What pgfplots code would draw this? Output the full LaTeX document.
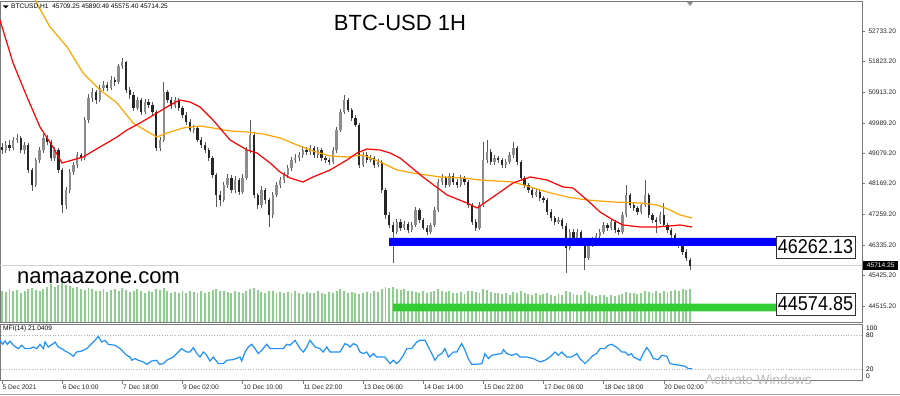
\documentclass[border=0pt]{standalone}
\usepackage{pgfplots}
\pgfplotsset{compat=1.18}
\usepackage{pgfplotstable}
\usepackage{fontspec}
\setmainfont{Liberation Sans}
\definecolor{maorange}{HTML}{FFA500}
\definecolor{mfiblue}{HTML}{1E90FF}
\definecolor{volgreen}{HTML}{8CCF8C}
\definecolor{bandgreen}{HTML}{32CD32}
\definecolor{frm}{HTML}{7A7A7A}
\def\sm{\fontsize{6.6}{7.5}\selectfont}

\pgfplotstableread{
x o h l c v
0 49250 49380 49060 49175 2400
2 49175 49430 49100 49325 2300
4 49325 49480 49150 49235 2500
6 49235 49560 49180 49474 2350
8 49474 49650 49390 49534 2450
10 49534 49600 49080 49175 2250
12 49175 49420 49050 49325 2400
14 49325 49380 48500 48577 2550
16 48577 48650 47950 48129 2600
18 48129 48950 48060 48876 2450
20 48876 49260 48800 49175 2350
22 49175 49640 49100 49534 2500
24 49534 49620 49330 49414 2700
26 49414 49480 48850 48936 2900
28 48936 49250 48860 49175 2650
30 49175 49230 48480 48577 2800
32 48577 48640 47290 47531 3000
34 47531 48080 47400 47979 2850
36 47979 48600 47900 48517 2750
38 48517 48820 48420 48727 2600
40 48727 49120 48650 49026 2700
42 49026 49100 48840 48936 2550
44 48936 50150 48880 50072 2450
46 50072 50850 49980 50730 2600
48 50730 51020 50600 50909 2500
50 50909 50980 50560 50670 2350
52 50670 51120 50600 51029 2400
54 51029 51240 50950 51119 2550
56 51119 51200 50930 51029 2300
58 51029 51380 50960 51268 2450
60 51268 51350 51100 51208 2500
62 51208 51760 51150 51687 2350
64 51687 51930 51600 51806 2600
66 51806 51850 50880 50969 2450
68 50969 51050 50700 50820 2300
70 50820 50900 50350 50431 2400
72 50431 50760 50360 50670 2500
74 50670 50720 50220 50311 2350
76 50311 50700 50250 50610 2250
78 50610 50700 50440 50521 2400
80 50521 50600 50200 50311 2300
82 50311 50380 49150 49235 2500
84 49235 49560 49130 49474 2450
86 49474 51200 49400 50909 2600
88 50909 50980 50580 50670 2350
90 50670 50760 50400 50491 2250
92 50491 50750 50420 50670 2300
94 50670 50720 50350 50431 2200
96 50431 50500 50130 50222 2350
98 50222 50300 49930 50012 2250
100 50012 50090 49700 49773 2400
102 49773 49920 49690 49833 2300
104 49833 49900 49400 49474 2200
106 49474 49560 49240 49325 2350
108 49325 49400 49090 49175 2250
110 49175 49240 48850 48936 2300
112 48936 49000 48330 48428 2450
114 48428 48500 47470 47830 2550
116 47830 47950 47500 47680 2400
118 47680 48220 47620 48129 2350
120 48129 48450 48050 48338 2300
122 48338 48420 47880 47979 2250
124 47979 48400 47900 48278 2400
126 48278 48350 47820 47919 2300
128 47919 48450 47850 48338 2200
130 48338 49260 48280 49175 2350
132 49175 50070 49100 49624 2500
134 49624 49700 47750 47830 2600
136 47830 47900 47400 47531 2450
138 47531 48100 47450 47979 2300
140 47979 48050 47560 47680 2250
142 47680 47750 46870 47232 2400
144 47232 47920 47150 47830 2350
146 47830 48230 47760 48129 2200
148 48129 48380 48050 48278 2300
150 48278 48520 48180 48428 2250
152 48428 48720 48350 48637 2300
154 48637 48960 48560 48876 2200
156 48876 49050 48790 48936 2350
158 48936 49120 48850 49026 2250
160 49026 49280 48950 49175 2150
162 49175 49260 49020 49115 2300
164 49115 49330 49030 49235 2200
166 49235 49300 48940 49026 2250
168 49026 49260 48950 49175 2350
170 49175 49230 48850 48936 2200
172 48936 49000 48780 48876 2150
174 48876 48950 48720 48816 2300
176 48816 49260 48760 49175 2250
178 49175 49860 49100 49773 2400
180 49773 50400 49700 50311 2500
182 50311 50820 50240 50670 2350
184 50670 50720 50300 50371 2250
186 50371 50430 50050 50132 2300
188 50132 50220 49850 49923 2200
190 49923 49980 48650 48727 2150
192 48727 49110 48660 49026 2250
194 49026 49120 48800 48876 2300
196 48876 49030 48820 48936 2200
198 48936 49000 48640 48727 2350
200 48727 48900 48660 48816 2300
202 48816 48880 47900 47979 2500
204 47979 48040 47100 47232 2650
206 47232 47320 46830 46933 2600
208 46933 47020 45800 46723 2700
210 46723 47120 46650 47022 2550
212 47022 47100 46760 46843 2450
214 46843 47050 46780 46963 2500
216 46963 47030 46700 46783 2350
218 46783 47020 46720 46933 2400
220 46933 47460 46880 47381 2300
222 47381 47440 47000 47082 2250
224 47082 47150 46770 46843 2350
226 46843 46920 46640 46723 2200
228 46723 47000 46660 46933 2300
230 46933 47460 46880 47381 2400
232 47381 48300 47320 48218 2500
234 48218 48450 48130 48338 2400
236 48338 48400 48040 48129 2300
238 48129 48500 48060 48398 2350
240 48398 48480 48140 48218 2250
242 48218 48300 48030 48129 2200
244 48129 48420 48060 48338 2300
246 48338 48400 48130 48218 2150
248 48218 48280 47450 47531 2350
250 47531 47600 46930 47022 2400
252 47022 47100 46760 46843 2300
254 46843 47620 46780 47531 2250
256 47531 49400 47460 48876 2500
258 48876 49470 48800 49115 2450
260 49115 49200 48730 48816 2300
262 48816 49030 48740 48936 2200
264 48936 49000 48790 48876 2250
266 48876 48950 48640 48727 2150
268 48727 48900 48650 48816 2200
270 48816 49110 48750 49026 2100
272 49026 49420 48950 49235 2300
274 49235 49300 48730 48816 2250
276 48816 48880 48260 48338 2350
278 48338 48400 48050 48129 2200
280 48129 48200 47900 47979 2150
282 47979 48050 47750 47830 2100
284 47830 48000 47760 47919 2200
286 47919 47980 47660 47740 2050
288 47740 47800 47600 47680 2150
290 47680 47750 47240 47321 2250
292 47321 47400 47060 47142 2100
294 47142 47200 46940 47022 2000
296 47022 47160 46950 47082 2150
298 47082 47150 46820 46903 2050
300 46903 46980 45500 46250 2400
302 46250 46800 46180 46723 2300
304 46723 46800 46460 46544 2150
306 46544 46800 46480 46723 2050
308 46723 46780 46340 46424 2100
310 46424 46500 45590 45950 2350
312 45950 46420 45880 46335 2200
314 46335 46560 46260 46484 2050
316 46484 46680 46400 46604 2000
318 46604 46800 46540 46723 2100
320 46723 47020 46660 46933 2050
322 46933 47000 46760 46843 1950
324 46843 47100 46780 47022 2050
326 47022 47080 46700 46783 2000
328 46783 46850 46640 46723 2100
330 46723 47310 46660 47232 2150
332 47232 48130 47160 47830 2300
334 47830 47900 47450 47531 2250
336 47531 47620 47360 47441 2200
338 47441 47500 47240 47321 2150
340 47321 47600 47250 47531 2250
342 47531 48280 47460 47830 2400
344 47830 47900 47150 47232 2300
346 47232 47300 47000 47082 2200
348 47082 47160 46700 47022 2350
350 47022 47320 46950 47232 2250
352 47232 47590 46860 46933 2400
354 46933 47000 46700 46783 2300
356 46783 46850 46550 46634 2350
358 46634 46700 46400 46484 2450
360 46484 46550 46250 46335 2400
362 46335 46400 46040 46125 2500
364 46125 46200 45860 45946 2450
366 45880 45950 45575 45714 2550
}\candles

\begin{document}
\begin{tikzpicture}

% volumes (lower part of main window)
\begin{axis}[at={(0pt,74pt)}, anchor=south west, width=862pt, height=321pt, scale only axis,
  xmin=-1.064, xmax=457.45, ymin=0, ymax=24600, hide axis]
\addplot[ycomb, draw=volgreen, line width=1.9pt, mark=none] table[x=x,y=v]{\candles};
\end{axis}

% main price window
\begin{axis}[at={(0pt,74pt)}, anchor=south west, width=862pt, height=321pt, scale only axis,
  xmin=-1.064, xmax=457.45, ymin=44032, ymax=53630,
  axis line style={frm, line width=0.8pt},
  xtick=\empty, scaled y ticks=false,
  ytick={44515.2,45425.2,46335.2,47259.2,48169.2,49079.2,49989.2,50913.2,51823.2,52733.2},
  yticklabels={44515.20,45425.20,46335.20,47259.20,48169.20,49079.20,49989.20,50913.20,51823.20,52733.20},
  ytick pos=right, yticklabel pos=right, tick align=outside, major tick length=3pt,
  tick style={frm, line width=0.5pt},
  yticklabel style={font=\sm, text=black!85, anchor=west}]
% bid line
\addplot[black!18, line width=0.6pt] coordinates {(-2,45714.25) (460,45714.25)};
% wicks
\addplot[draw=none, mark=none, forget plot,
  error bars/.cd, y dir=both, y explicit, error mark=none,
  error bar style={draw=black!65, line width=0.75pt}]
  table[x=x, y=c, y error plus expr=\thisrow{h}-\thisrow{c}, y error minus expr=\thisrow{c}-\thisrow{l}]{\candles};
% bullish bodies
\addplot[draw=none, mark=none, forget plot, unbounded coords=discard,
  error bars/.cd, y dir=minus, y explicit, error mark=none,
  error bar style={draw=black!45, line width=2.3pt}]
  table[x=x, y expr={\thisrow{c}>=\thisrow{o} ? \thisrow{c} : nan}, y error minus expr=\thisrow{c}-\thisrow{o}]{\candles};
% bearish bodies
\addplot[draw=none, mark=none, forget plot, unbounded coords=discard,
  error bars/.cd, y dir=minus, y explicit, error mark=none,
  error bar style={draw=black!85, line width=2.3pt}]
  table[x=x, y expr={\thisrow{c}<\thisrow{o} ? \thisrow{o} : nan}, y error minus expr=\thisrow{o}-\thisrow{c}]{\candles};
% slow MA
\addplot[maorange, line width=1.2pt] coordinates {
(13.8,53959) (17.6,53660) (25.5,52853) (34.6,52255) (43.1,51477) (52.1,50969) (61.2,50580) (69.7,49982) (78.7,49683) (82.4,49564) (87.8,49683) (96.3,49833) (105.3,49893) (112.2,49833) (121.3,49743) (130.3,49713) (138.8,49654) (147.9,49534) (156.9,49325) (165.4,49145) (174.5,48996) (183.5,48966) (192,49026) (201.1,48816) (210.1,48577) (218.6,48487) (233,48368) (245.2,48338) (254.3,48278) (271.8,48218) (280.9,48069) (289.9,47919) (300.5,47770) (311.2,47680) (325,47620) (339.4,47590) (348.4,47530) (355.3,47381) (360.6,47232) (367,47142)};
% fast MA
\addplot[red, line width=1.2pt] coordinates {
(-1.1,53062) (5.9,51776) (13.3,50760) (20.2,49863) (27.1,49265) (31.9,48786) (43.1,48966) (52.1,49265) (61.2,49564) (66.5,49773) (73.4,49982) (82.4,50281) (89.4,50520) (94.7,50670) (100,50610) (105.3,50461) (112.2,50072) (121.3,49474) (130.3,49175) (135.6,49085) (142.6,48786) (147.9,48517) (153.2,48338) (160.1,48218) (165.4,48368) (174.5,48577) (183.5,48876) (188.8,49085) (194.1,49205) (201.1,49175) (206.4,49085) (211.7,48936) (223.9,48368) (236.7,47830) (247.3,47590) (252.7,47441) (261.2,47770) (271.8,48188) (280.9,48368) (289.9,48278) (298.4,48069) (303.7,48039) (311.2,47680) (318.1,47321) (325,47082) (330.3,46933) (339.4,46873) (348.4,46873) (355.3,46903) (360.6,46933) (367,46873)};
% zones
\addplot[fill=blue, draw=none] coordinates {(205.9,46305) (411.7,46305) (411.7,46544) (205.9,46544) (205.9,46305)};
\addplot[fill=bandgreen, draw=none] coordinates {(208,44346) (411.7,44346) (411.7,44585) (208,44585) (208,44346)};
\end{axis}

% MFI window
\begin{axis}[at={(0pt,15.4pt)}, anchor=south west, width=862pt, height=56.6pt, scale only axis,
  xmin=-1.064, xmax=457.45, ymin=0, ymax=100,
  axis line style={frm, line width=0.8pt},
  ytick=\empty,
  xtick={0,32,64,96,128,160,192,224,256,288,320,352},
  xticklabels={5 Dec 2021,6 Dec 10:00,7 Dec 18:00,9 Dec 02:00,10 Dec 10:00,11 Dec 22:00,13 Dec 06:00,14 Dec 14:00,15 Dec 22:00,17 Dec 06:00,18 Dec 18:00,20 Dec 02:00},
  xtick pos=bottom, tick align=outside, major tick length=3pt,
  tick style={frm, line width=0.5pt},
  xticklabel style={font=\sm, text=black!85, anchor=north west, inner xsep=0pt, inner ysep=1pt, xshift=0.5pt}]
\addplot[black!30, dotted, line width=0.6pt] coordinates {(-2,80) (460,80)};
\addplot[black!30, dotted, line width=0.6pt] coordinates {(-2,20) (460,20)};
\addplot[mfiblue, line width=1.2pt] coordinates {
(-1.06,71.2) (0.37,64.1) (1.6,69.9) (2.8,64.1) (4.3,69.9) (6.0,62.4) (8.7,56.5) (10.5,62.4) (12.2,56.5) (14.9,56.5) (16.6,59.4) (18.5,56.5) (20.2,64.1) (22.0,56.5) (22.9,68.2) (24.6,59.4) (27.3,65.4) (28.2,68.2) (29.9,59.4) (31.8,56.5) (33.5,52.3) (36.2,47.7) (37.9,42.9) (39.7,50.5) (42.4,52.3) (45.1,56.5) (47.7,65.4) (49.5,71.2) (51.2,78.2) (53.0,68.2) (54.8,71.2) (56.5,64.1) (60.1,62.4) (62.8,56.5) (66.3,44.7) (68.1,41.7) (69.0,35.9) (70.7,38.9) (72.5,35.9) (75.2,32.9) (77.0,28.8) (79.6,34.6) (82.3,35.9) (83.7,28.8) (85.8,30.0) (87.6,35.9) (91.1,41.7) (92.9,47.7) (95.6,56.5) (98.2,50.5) (100,50.5) (101.8,58.3) (103.6,47.7) (105.3,41.7) (107.1,50.5) (108.9,44.7) (110.6,34.6) (112.4,41.7) (115.1,30.0) (117.7,30.0) (119.5,35.9) (123.0,37.1) (126.6,41.7) (127.5,34.6) (129.3,50.5) (131.0,59.4) (132.8,64.1) (134.6,56.5) (136.3,47.7) (138.1,53.5) (140.8,64.1) (142.6,56.5) (146.1,56.5) (149.6,56.5) (151.4,64.1) (153.2,62.4) (155.9,71.2) (158.5,56.5) (160.3,50.5) (162.1,59.4) (163.8,71.2) (166.5,59.4) (169.1,56.5) (170.9,50.5) (172.7,59.4) (174.5,50.5) (177.1,50.5) (179.8,50.5) (182.4,65.4) (184.2,62.4) (185.1,59.4) (186.9,65.4) (188.7,62.4) (190.4,50.5) (192.2,47.7) (194.0,50.5) (195.7,41.7) (197.5,47.7) (199.3,41.7) (201.1,41.7) (203.7,41.7) (206.4,30.0) (208.1,35.9) (209.9,30.0) (211.7,35.9) (213.5,44.7) (215.3,56.5) (217.9,56.5) (220.6,68.2) (222.3,71.2) (225.0,71.2) (226.8,59.4) (228.6,47.7) (230.3,35.9) (232.1,44.7) (233.9,47.7) (235.6,56.5) (237.4,41.7) (240.1,50.5) (241.9,50.5) (244.5,65.4) (246.3,53.5) (248.0,38.9) (249.8,28.8) (252.5,28.8) (255.2,30.0) (256.9,47.7) (258.7,38.9) (260.5,44.7) (263.1,46.5) (265.8,47.7) (266.7,54.8) (268.5,47.7) (271.1,44.7) (273.8,47.7) (275.5,41.7) (279.1,41.7) (282.6,38.9) (286.2,32.9) (288.8,35.9) (291.5,41.7) (294.1,50.5) (295.9,44.7) (297.7,50.5) (300.4,41.7) (303.0,41.7) (305.7,47.7) (307.4,38.9) (310.1,30.0) (311.9,35.9) (314.5,44.7) (316.3,47.7) (318.1,56.5) (320.7,56.5) (322.5,62.4) (324.3,64.1) (326.1,60.6) (327.8,56.5) (329.6,50.5) (331.4,50.5) (333.1,44.7) (334.9,47.7) (335.8,41.7) (337.6,38.9) (339.4,35.9) (341.1,47.7) (342.9,58.3) (344.7,50.5) (346.4,38.9) (349.1,37.1) (350.9,44.7) (353.6,42.9) (355.3,30.0) (358.0,28.3) (360.6,27.1) (363.3,25.3) (365.1,21.2) (366.9,21.04)};
\end{axis}

\begin{scope}[x=1pt,y=1pt]
% header and texts
\fill[black] (3,390.5) -- (8.5,390.5) -- (5.75,387.5) -- cycle;
\fill[black!45] (687,394) -- (693,394) -- (690,390) -- cycle;
\node[anchor=west, inner sep=0pt, font=\sm] at (11,389) {BTCUSD,H1\ \ 45709.25 45890.49 45575.40 45714.25};
\node[anchor=west, inner sep=0pt, font=\sm] at (3,67) {MFI(14) 21.0409};
\node[font=\fontsize{22}{24}\selectfont, inner sep=0pt] at (400,373.5) {BTC-USD 1H};
\node[anchor=west, font=\fontsize{22}{24}\selectfont, inner sep=0pt] at (17,118) {namaazone.com};
% level labels
\node[draw=black!80, fill=white, line width=0.6pt, minimum width=79pt, minimum height=22pt, inner sep=0pt, font=\fontsize{20}{20}\selectfont] at (815.5,149) {\scalebox{0.9}[1]{46262.13}};
\node[draw=black!80, fill=white, line width=0.6pt, minimum width=79pt, minimum height=22pt, inner sep=0pt, font=\fontsize{20}{20}\selectfont] at (815.5,92) {\scalebox{0.9}[1]{44574.85}};
% current price tag
\node[fill=black, text=white, minimum width=35pt, minimum height=9.5pt, inner sep=0pt, font=\sm, anchor=west] at (863,130.5) {45714.25};
% MFI scale
\node[anchor=west, inner sep=0pt, font=\sm] at (866,68) {100};
\node[anchor=west, inner sep=0pt, font=\sm] at (866,61) {80};
\node[anchor=west, inner sep=0pt, font=\sm] at (866,27) {20};
\node[anchor=west, inner sep=0pt, font=\sm] at (866,19.5) {0};
% watermark
\node[anchor=west, inner sep=0pt, text=black!28, font=\fontsize{13.5}{15}\selectfont] at (705,16) {Activate Windows};
\draw[black!35, line width=0.8pt] (0,2) -- (900,2);
\pgfresetboundingbox
\useasboundingbox (0,0) rectangle (900,396);
\end{scope}
\end{tikzpicture}
\end{document}
